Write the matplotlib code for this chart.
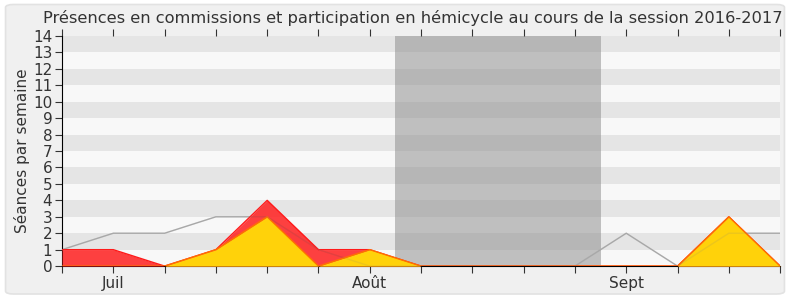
import numpy as np
import matplotlib.pyplot as plt
from matplotlib.patches import FancyBboxPatch

# weekly values, session 2016-2017 (July to September)
semaines = list(range(15))
presence_commission = [1, 1, 0, 1, 4, 1, 1, 0, 0, 0, 0, 0, 0, 3, 0]
participation_hemicycle = [0, 0, 0, 1, 3, 0, 1, 0, 0, 0, 0, 0, 0, 3, 0]
mediane_deputes = [1, 2, 2, 3, 3, 1, 0, 0, 0, 0, 0, 2, 0, 2, 2]
mois_labels = ["", "Juil", "", "", "", "", "Août", "", "", "", "", "Sept", "", "", ""]
vacances = (6.5, 10.5)

def main():
    fig = plt.figure(figsize=(7.9, 3.0), dpi=100, facecolor="white")
    fig.patches.append(FancyBboxPatch((0.007, 0.02), 0.986, 0.965,
                                      boxstyle="round,pad=0,rounding_size=0.01",
                                      transform=fig.transFigure,
                                      facecolor="#f0f0f0", edgecolor="#e2e2e2",
                                      linewidth=1.2, zorder=-10))
    ax = fig.add_axes([0.0785, 0.113, 0.909, 0.767])
    ax.set_facecolor("#f8f8f8")

    # alternating horizontal stripes
    for lvl in range(1, 14, 2):
        ax.axhspan(lvl, lvl + 1, color="#e5e5e5", zorder=0, linewidth=0)

    ax.axvspan(vacances[0], vacances[1], color="#909090", alpha=0.55,
               zorder=1, linewidth=0)

    x = np.array(semaines)
    ax.plot(x, mediane_deputes, color="#b0b0b0", linewidth=1, zorder=2)
    ax.fill_between(x, 0, presence_commission, color="#ff2020", alpha=0.85,
                    linewidth=0, zorder=3)
    ax.plot(x, presence_commission, color="#ff1a1a", linewidth=1, zorder=3)
    ax.fill_between(x, 0, participation_hemicycle, color="#ffd20a",
                    linewidth=0, zorder=4)
    ax.plot(x, participation_hemicycle, color="#ff7000", linewidth=1, zorder=4)
    # median shows faintly through the filled areas
    ax.plot(x, mediane_deputes, color="#808080", linewidth=1, alpha=0.15, zorder=5)

    ax.set_xlim(0, 14)
    ax.set_ylim(0, 14)
    ax.set_yticks(range(15))
    ax.set_xticks(semaines)
    ax.set_xticklabels(mois_labels)
    ax.tick_params(axis="both", labelsize=11, colors="#333333", length=5,
                   direction="out")
    ax.tick_params(axis="x", top=True, pad=2)
    ax.tick_params(axis="y", pad=2)
    for side in ["top", "right"]:
        ax.spines[side].set_visible(False)
    ax.spines["bottom"].set_color("black")
    ax.spines["left"].set_color("black")

    ax.set_ylabel("Séances par semaine", fontsize=11, color="#333333", labelpad=2)
    fig.text(0.523, 0.94,
             "Présences en commissions et participation en hémicycle au cours de la session 2016-2017",
             fontsize=11.7, color="#333333", ha="center", va="center")
    fig.savefig("out.png", dpi=100, facecolor="white")

main()
